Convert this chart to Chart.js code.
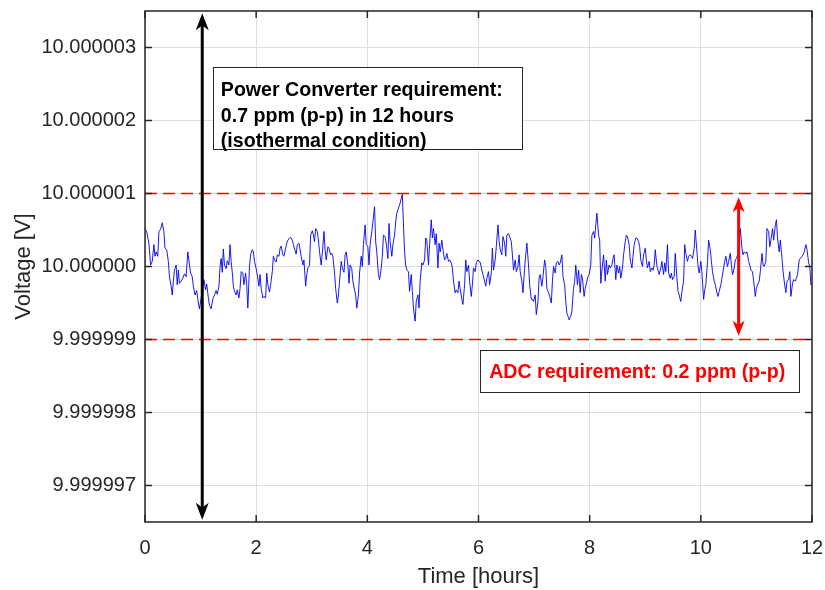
<!DOCTYPE html>
<html>
<head>
<meta charset="utf-8">
<script src="https://cdn.jsdelivr.net/npm/chart.js@4.4.0/dist/chart.umd.min.js"></script>
<style>
  body { margin: 0; background: #fff; }
  canvas { display: block; }
</style>
</head>
<body>
<canvas id="driftChart" width="825" height="590"></canvas>
<script>
// time axis (hours) and deviation from 10 V (in microvolts, i.e. 1e-6 V)
const hours = [
  0.00, 0.03, 0.07, 0.10, 0.13, 0.16, 0.18, 0.20, 0.23, 0.25, 0.28, 0.31, 0.34, 0.36, 0.39, 0.42, 0.44, 0.47, 0.49, 0.51,
  0.53, 0.56, 0.58, 0.60, 0.62, 0.65, 0.68, 0.71, 0.74, 0.77, 0.80, 0.82, 0.85, 0.87, 0.90, 0.93, 0.96, 0.98, 1.06, 1.09,
  1.11, 1.14, 1.16, 1.19, 1.22, 1.25, 1.28, 1.30, 1.33, 1.35, 1.37, 1.39, 1.41, 1.43, 1.46, 1.48, 1.51,
  1.53, 1.55, 1.57, 1.59, 1.61, 1.64, 1.66, 1.69, 1.71, 1.73, 1.76, 1.78, 1.81, 1.83, 1.85, 1.88, 1.90, 1.93, 1.95, 1.97,
  2.00, 2.02, 2.05, 2.07, 2.09, 2.12, 2.14, 2.17, 2.19, 2.21, 2.24, 2.26, 2.29, 2.31, 2.33, 2.36, 2.38, 2.41, 2.43, 2.45,
  2.48, 2.50, 2.53, 2.55, 2.57, 2.60, 2.62, 2.65, 2.67, 2.69, 2.72, 2.74, 2.77, 2.79, 2.81, 2.84, 2.86, 2.89, 2.91, 2.93,
  2.96, 2.98, 3.01, 3.03,
  3.05, 3.07, 3.10, 3.12, 3.14, 3.17, 3.19, 3.22, 3.24, 3.26, 3.29, 3.31, 3.34, 3.36, 3.38, 3.41, 3.43, 3.46, 3.48, 3.50,
  3.53, 3.55, 3.58, 3.60, 3.62, 3.65, 3.67, 3.69, 3.72, 3.74, 3.77, 3.79, 3.81, 3.84, 3.86, 3.89, 3.91, 3.93, 3.96, 3.98,
  4.01, 4.03, 4.05, 4.08, 4.10, 4.13, 4.15, 4.17, 4.20, 4.22, 4.25, 4.27, 4.29, 4.32, 4.34, 4.37, 4.39, 4.41, 4.44, 4.46,
  4.49, 4.51, 4.53, 4.56,
  4.58, 4.61, 4.63, 4.65, 4.67, 4.69, 4.71, 4.74, 4.76, 4.79, 4.81, 4.83, 4.86, 4.88, 4.91, 4.93, 4.95, 4.98, 5.00, 5.03,
  5.05, 5.07, 5.10, 5.12, 5.15, 5.17, 5.19, 5.22, 5.24, 5.27, 5.29, 5.31, 5.34, 5.36, 5.39, 5.41, 5.43, 5.46, 5.48, 5.51,
  5.53, 5.55, 5.58, 5.60, 5.63, 5.65, 5.67, 5.70, 5.72, 5.75, 5.77, 5.79, 5.82, 5.84, 5.87, 5.89, 5.91, 5.94, 5.96, 5.99,
  6.01, 6.03, 6.06, 6.08, 6.11,
  6.13, 6.15, 6.18, 6.20, 6.23, 6.25, 6.27, 6.30, 6.32, 6.35, 6.37, 6.39, 6.42, 6.44, 6.47, 6.49, 6.51, 6.54, 6.56, 6.59,
  6.61, 6.63, 6.66, 6.68, 6.71, 6.73, 6.75, 6.78, 6.80, 6.83, 6.85, 6.87, 6.90, 6.92, 6.95, 6.97, 6.99, 7.02, 7.04, 7.07,
  7.09, 7.11, 7.14, 7.16, 7.19, 7.21, 7.23, 7.26, 7.28, 7.31, 7.33, 7.35, 7.38, 7.40, 7.43, 7.45, 7.47, 7.50, 7.52, 7.55,
  7.57, 7.59, 7.62,
  7.63, 7.66, 7.68, 7.71, 7.73, 7.75, 7.78, 7.80, 7.83, 7.85, 7.87, 7.90, 7.92, 7.95, 7.97, 7.99, 8.02, 8.04, 8.07, 8.09,
  8.11, 8.13, 8.16, 8.18, 8.20, 8.23, 8.25, 8.28, 8.30, 8.32, 8.35, 8.37, 8.40, 8.42, 8.44, 8.47, 8.49, 8.52, 8.54, 8.56,
  8.59, 8.61, 8.64, 8.66, 8.68, 8.71, 8.73, 8.76, 8.78, 8.80, 8.83, 8.85, 8.88, 8.90, 8.92, 8.95, 8.97, 9.00, 9.02, 9.04,
  9.07, 9.09, 9.12, 9.14,
  9.16, 9.18, 9.21, 9.23, 9.25, 9.28, 9.30, 9.33, 9.35, 9.37, 9.40, 9.42, 9.45, 9.47, 9.49, 9.52, 9.54, 9.57, 9.59, 9.61,
  9.64, 9.66, 9.69, 9.71, 9.73, 9.76, 9.78, 9.81, 9.83, 9.85, 9.88, 9.90, 9.93, 9.95, 9.97, 10.00, 10.02, 10.05, 10.07, 10.09,
  10.12, 10.14, 10.17, 10.19, 10.21, 10.24, 10.26, 10.29, 10.31, 10.33, 10.36, 10.38, 10.41, 10.43, 10.45, 10.48, 10.50, 10.53, 10.55, 10.57,
  10.60, 10.62,
  10.64, 10.68, 10.71, 10.74, 10.76, 10.78, 10.81, 10.83, 10.86, 10.88, 10.90, 10.93, 10.95, 10.98, 11.00, 11.02, 11.05, 11.07, 11.10, 11.12,
  11.14, 11.17, 11.19, 11.22, 11.24, 11.26, 11.29, 11.31, 11.34, 11.36, 11.38, 11.41, 11.43, 11.46, 11.48, 11.50, 11.53, 11.55, 11.58, 11.60,
  11.62, 11.65, 11.67, 11.70, 11.72, 11.74, 11.77, 11.79, 11.82, 11.84, 11.86, 11.89, 11.91, 11.94, 11.96, 11.98, 12.00
];
const deviation = [
  0.52, 0.48, 0.32, 0.02, 0.07, 0.30, 0.14, 0.20, 0.14, 0.48, 0.51, 0.60, 0.48, 0.25, 0.23, 0.07, -0.14, -0.27, -0.39, -0.20,
  -0.05, 0.02, -0.25, -0.05, -0.23, -0.20, -0.16, -0.10, -0.14, 0.20, 0.02, -0.09, -0.14, -0.27, -0.39, -0.33, -0.50, -0.58, -0.18, -0.32,
  -0.24, -0.43, -0.53, -0.58, -0.45, -0.39, -0.33, -0.38, -0.27, 0.00, 0.11, -0.08, 0.24, 0.02, -0.03, 0.08, 0.02,
  0.30, 0.07, -0.08, -0.27, -0.34, -0.39, -0.32, -0.43, -0.30, -0.07, -0.09, -0.25, -0.09, -0.25, -0.57, 0.00, 0.16, 0.23, 0.20, 0.07,
  -0.03, -0.11, -0.27, -0.11, -0.30, -0.43, -0.41, -0.43, -0.09, -0.25, -0.35, -0.25, -0.07, 0.14, 0.09, 0.06, 0.16, 0.14, 0.25, 0.28,
  0.16, 0.14, 0.25, 0.32, 0.36, 0.39, 0.40, 0.36, 0.30, 0.24, 0.17, 0.30, 0.32, 0.23, 0.14, 0.02, 0.09, -0.27, -0.11, -0.02,
  0.01, 0.43, 0.49, 0.43,
  0.34, 0.52, 0.48, 0.36, 0.20, 0.02, 0.18, 0.48, 0.23, 0.09, 0.27, 0.25, 0.16, 0.18, 0.14, -0.09, -0.30, -0.50, -0.39, -0.20,
  0.07, -0.02, -0.08, 0.16, 0.20, 0.02, -0.23, 0.02, -0.03, -0.20, -0.32, -0.39, -0.57, -0.39, -0.09, 0.14, 0.00, 0.30, 0.57, 0.30,
  0.27, 0.02, 0.30, 0.48, 0.61, 0.82, 0.34, 0.20, -0.11, -0.18, -0.02, 0.14, 0.43, 0.41, 0.32, 0.11, 0.59, 0.34, 0.14, 0.30,
  0.43, 0.61, 0.73, 0.80,
  0.84, 0.93, 0.99, 0.57, 0.20, 0.02, -0.05, -0.07, -0.34, -0.11, -0.34, -0.57, -0.75, -0.48, -0.39, -0.57, -0.20, 0.05, 0.02, 0.09,
  0.39, 0.36, 0.02, 0.30, 0.64, 0.39, 0.52, 0.30, 0.45, -0.02, 0.32, 0.20, 0.36, 0.23, 0.09, 0.11, 0.18, 0.07, 0.09, 0.05,
  -0.02, -0.20, -0.36, -0.32, -0.36, -0.20, -0.30, -0.45, -0.52, -0.25, 0.09, -0.07, 0.02, -0.20, -0.41, -0.25, -0.02, -0.07, 0.05, 0.09,
  0.07, 0.06, -0.05, -0.11, -0.20,
  -0.27, -0.16, -0.07, -0.25, -0.09, 0.25, -0.05, 0.09, 0.27, 0.57, 0.36, 0.23, 0.16, 0.41, 0.32, 0.14, 0.43, 0.45, 0.41, 0.34,
  0.16, -0.05, 0.09, -0.07, 0.00, 0.16, -0.07, -0.20, -0.36, -0.02, 0.16, 0.32, 0.02, -0.25, -0.45, -0.45, -0.48, -0.39, -0.66, -0.48,
  -0.16, -0.11, -0.27, -0.14, 0.09, 0.00, -0.30, -0.36, -0.41, -0.50, -0.20, 0.00, -0.09, 0.05, 0.07, 0.02, 0.05, 0.16, -0.14, -0.25,
  -0.48, -0.64, -0.70,
  -0.73, -0.68, -0.61, -0.30, -0.20, 0.02, -0.25, -0.05, -0.36, -0.11, -0.16, -0.41, -0.30, -0.20, -0.14, -0.11, 0.02, 0.43, 0.48, 0.39,
  0.57, 0.73, 0.43, 0.36, -0.23, 0.02, 0.16, -0.20, 0.09, -0.11, 0.02, -0.02, 0.02, 0.11, 0.16, -0.18, 0.02, -0.09, 0.00, -0.16,
  -0.02, 0.16, 0.34, 0.43, 0.41, 0.30, 0.09, -0.02, 0.14, 0.30, 0.39, 0.39, 0.34, 0.27, 0.09, 0.00, 0.16, 0.25, 0.09, -0.02,
  0.07, -0.07, -0.02, -0.05,
  0.02, 0.23, 0.00, -0.05, -0.11, -0.02, 0.07, -0.11, 0.05, -0.07, 0.30, -0.09, -0.16, -0.09, -0.18, -0.14, 0.18, -0.16, -0.34, -0.39,
  -0.48, -0.34, -0.20, 0.30, 0.18, 0.07, 0.14, 0.16, 0.14, 0.11, 0.25, 0.50, 0.20, 0.00, -0.09, 0.07, -0.09, -0.45, -0.32, -0.25,
  0.07, 0.36, 0.23, 0.07, -0.07, -0.20, -0.25, -0.36, -0.41, -0.34, -0.25, -0.16, -0.02, 0.07, 0.14, 0.00, 0.07, 0.18, 0.02, -0.11,
  -0.02, 0.09,
  0.11, 0.20, 0.52, 0.25, 0.16, 0.20, 0.18, 0.20, 0.07, 0.02, -0.05, -0.07, -0.20, -0.41, -0.30, -0.25, -0.20, -0.07, 0.18, 0.02,
  0.00, 0.07, 0.52, 0.48, 0.27, 0.36, 0.52, 0.36, 0.57, 0.64, 0.39, 0.20, 0.36, 0.11, -0.07, -0.20, -0.36, -0.20, -0.18, -0.07,
  -0.41, -0.23, -0.18, -0.20, -0.16, -0.11, 0.09, 0.11, 0.14, 0.16, 0.20, 0.30, 0.23, 0.05, 0.00, -0.25, -0.23
];

const yTickValues = [-3, -2, -1, 0, 1, 2, 3];
const yTickLabels = ['9.999997', '9.999998', '9.999999', '10.000000', '10.000001', '10.000002', '10.000003'];
const xTickValues = [0, 2, 4, 6, 8, 10, 12];
const adcLimits = [1, -1];

const converterArrow = { t: 1.03, from: -3.47, to: 3.47 };
const adcArrow = { t: 10.68, from: -0.95, to: 0.95 };
const converterNote = ['Power Converter requirement:', '0.7 ppm (p-p) in 12 hours', '(isothermal condition)'];
const adcNote = ['ADC requirement: 0.2 ppm (p-p)'];

const FONT = '"Liberation Sans", Arial, Helvetica, sans-serif';
const AXIS = '#262626';

function drawArrow(ctx, x, yTop, yBottom, color, lw, headW, headL) {
  ctx.save();
  ctx.strokeStyle = color;
  ctx.fillStyle = color;
  ctx.lineWidth = lw;
  ctx.beginPath();
  ctx.moveTo(x, yTop + headL * 0.6);
  ctx.lineTo(x, yBottom - headL * 0.6);
  ctx.stroke();
  [[yTop, 1], [yBottom, -1]].forEach(([tip, dir]) => {
    ctx.beginPath();
    ctx.moveTo(x, tip);
    ctx.lineTo(x - headW / 2, tip + dir * headL);
    ctx.lineTo(x, tip + dir * headL * 0.72);
    ctx.lineTo(x + headW / 2, tip + dir * headL);
    ctx.closePath();
    ctx.fill();
  });
  ctx.restore();
}

function drawNote(ctx, x0, y0, x1, y1, lines, color, padX, firstBase, lineGap) {
  ctx.save();
  ctx.fillStyle = '#fff';
  ctx.fillRect(x0, y0, x1 - x0, y1 - y0);
  ctx.strokeStyle = '#262626';
  ctx.lineWidth = 1;
  ctx.strokeRect(Math.round(x0) + 0.5, Math.round(y0) + 0.5, Math.round(x1 - x0), Math.round(y1 - y0));
  ctx.fillStyle = color;
  ctx.font = 'bold 19.6px ' + FONT;
  ctx.textBaseline = 'alphabetic';
  ctx.textAlign = 'left';
  lines.forEach((s, i) => ctx.fillText(s, x0 + padX, y0 + firstBase + i * lineGap));
  ctx.restore();
}

const overlay = {
  id: 'overlay',
  afterDatasetsDraw(chart) {
    const { ctx, chartArea: a, scales: { x, y } } = chart;

    drawArrow(ctx, x.getPixelForValue(converterArrow.t), y.getPixelForValue(converterArrow.to),
      y.getPixelForValue(converterArrow.from), '#000', 3, 13, 17);
    drawArrow(ctx, x.getPixelForValue(adcArrow.t), y.getPixelForValue(adcArrow.to),
      y.getPixelForValue(adcArrow.from), '#f00', 3, 12, 15);

    drawNote(ctx, x.getPixelForValue(1.22), y.getPixelForValue(2.73), x.getPixelForValue(6.78), y.getPixelForValue(1.61),
      converterNote, '#000', 8, 29, 25.5);
    drawNote(ctx, x.getPixelForValue(6.03), y.getPixelForValue(-1.14), x.getPixelForValue(11.77), y.getPixelForValue(-1.71),
      adcNote, '#f00', 9, 28, 0);

    // box and inward ticks
    ctx.save();
    ctx.strokeStyle = AXIS;
    ctx.lineWidth = 1.5;
    ctx.strokeRect(a.left, a.top, a.width, a.height);
    ctx.beginPath();
    xTickValues.forEach(v => {
      const px = x.getPixelForValue(v);
      ctx.moveTo(px, a.bottom); ctx.lineTo(px, a.bottom - 7);
      ctx.moveTo(px, a.top); ctx.lineTo(px, a.top + 7);
    });
    yTickValues.forEach(v => {
      const py = y.getPixelForValue(v);
      ctx.moveTo(a.left, py); ctx.lineTo(a.left + 7, py);
      ctx.moveTo(a.right, py); ctx.lineTo(a.right - 7, py);
    });
    ctx.stroke();
    ctx.restore();
  }
};

const ctx = document.getElementById('driftChart');
new Chart(ctx, {
  type: 'line',
  data: {
    datasets: [
      {
        data: hours.map((t, i) => ({ x: t, y: deviation[i] })),
        borderColor: '#0000ee',
        borderWidth: 0.9,
        pointRadius: 0,
        tension: 0,
        order: 2
      },
      ...adcLimits.map(v => ({
        data: [{ x: 0, y: v }, { x: 12, y: v }],
        borderColor: '#f00',
        borderWidth: 1.5,
        borderDash: [12, 6],
        pointRadius: 0,
        order: 1
      }))
    ]
  },
  options: {
    responsive: false,
    animation: false,
    events: [],
    layout: { padding: { left: 0, right: 13, top: 11, bottom: 0 } },
    plugins: { legend: { display: false }, tooltip: { enabled: false } },
    scales: {
      x: {
        type: 'linear',
        min: 0,
        max: 12,
        afterBuildTicks: s => { s.ticks = xTickValues.map(v => ({ value: v })); },
        afterFit: s => { s.height = 68; s.paddingLeft = 0; s.paddingRight = 0; },
        ticks: { color: AXIS, font: { family: FONT, size: 20 }, padding: 14, maxRotation: 0 },
        grid: { color: '#dedede', drawTicks: false },
        border: { display: false },
        title: { display: true, text: 'Time [hours]', color: AXIS, font: { family: FONT, size: 22 }, padding: { top: 0, bottom: 0 } }
      },
      y: {
        min: -3.5,
        max: 3.5,
        afterBuildTicks: s => { s.ticks = yTickValues.map(v => ({ value: v })); },
        afterFit: s => { s.width = 145; s.paddingTop = 0; s.paddingBottom = 0; },
        ticks: {
          color: AXIS,
          font: { family: FONT, size: 20 },
          padding: 9,
          callback: v => yTickLabels[yTickValues.indexOf(v)]
        },
        grid: { color: '#dedede', drawTicks: false },
        border: { display: false },
        title: { display: true, text: 'Voltage [V]', color: AXIS, font: { family: FONT, size: 22 }, padding: { top: 11, bottom: 0 } }
      }
    }
  },
  plugins: [overlay]
});
</script>
</body>
</html>
